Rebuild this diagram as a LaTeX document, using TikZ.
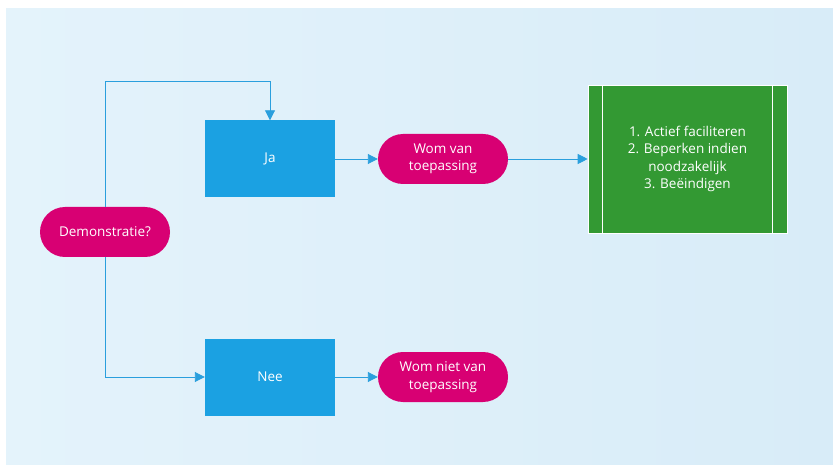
\documentclass[tikz,border=0pt]{standalone}
\usepackage{fontspec}
\setmainfont{Open Sans}
\usetikzlibrary{arrows.meta,shapes.misc}
\definecolor{bgA}{HTML}{E4F3FB}
\definecolor{bgB}{HTML}{D8ECF8}
\definecolor{cblue}{HTML}{1BA1E2}
\definecolor{cpink}{HTML}{D80073}
\definecolor{cgreen}{HTML}{339933}
\definecolor{cline}{HTML}{2A9FDD}
\tikzset{
  x=1pt,y=1pt,
  every node/.style={font=\fontsize{13.5}{17.5}\selectfont, text=white, align=center, inner sep=0pt},
  bluebox/.style={fill=cblue, minimum width=130pt, minimum height=77pt},
  pill/.style={rounded rectangle, fill=cpink, minimum width=130pt, minimum height=50pt},
  greenbox/.style={fill=cgreen, draw=white, line width=0.6pt, minimum width=199pt, minimum height=148pt},
  conn/.style={draw=cline, line width=0.9pt, -{Triangle[length=10pt,width=10pt]}},
}
\begin{document}
\begin{tikzpicture}
\useasboundingbox (0,0) rectangle (833,464);
\fill[white] (0,0) rectangle (833,464);
\shade[left color=bgA, right color=bgB] (6,0) rectangle (833,455);
\node[pill] (demo) at (105,232) {Demonstratie?};
\node[bluebox] (ja) at (270,305) {Ja};
\node[bluebox] (nee) at (270,87) {Nee};
\node[pill] (wv) at (443,305) {Wom van\\toepassing};
\node[pill] (wnv) at (443,87) {Wom niet van\\toepassing};
\node[greenbox] (act) at (687.5,305) {1. Actief faciliteren\\2. Beperken indien\\noodzakelijk\\3. Beëindigen};
\draw[white, line width=0.6pt] ([xshift=15pt]act.north west) -- ([xshift=15pt]act.south west);
\draw[white, line width=0.6pt] ([xshift=-15pt]act.north east) -- ([xshift=-15pt]act.south east);
\coordinate (tl) at (105,383);
\coordinate (tr) at (270,383);
\coordinate (bl) at (105,87);
\draw[conn] (demo.north) -- (tl) -- (tr) -- (ja.north);
\draw[conn] (demo.south) -- (bl) -- (nee.west);
\draw[conn] (ja.east) -- (wv.west);
\draw[conn] (wv.east) -- (act.west);
\draw[conn] (nee.east) -- (wnv.west);
\end{tikzpicture}
\end{document}
